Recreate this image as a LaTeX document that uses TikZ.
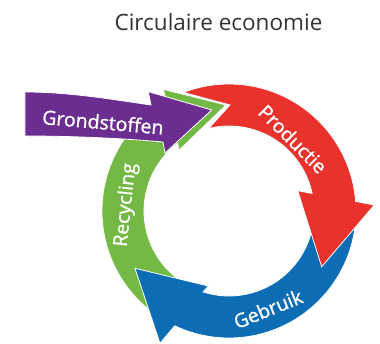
\documentclass[tikz,border=0pt]{standalone}
\usepackage{fontspec}
\setmainfont{Open Sans}
\newfontfamily\lblfont[FakeBold=1.2]{Open Sans}
\usepackage{xcolor}
\usetikzlibrary{math}
\definecolor{cpurple}{RGB}{107,45,144}
\definecolor{cred}{RGB}{232,50,43}
\definecolor{cblue}{RGB}{12,109,181}
\definecolor{cgreen}{RGB}{116,185,69}
\definecolor{cgray}{RGB}{51,51,51}

\begin{document}
\begin{tikzpicture}[x=1pt, y=1pt,
  lbl/.style={text=white, font=\lblfont\fontsize{19.5}{22}\selectfont},
  band/.style={draw=white, line width=0.8pt}]
\tikzmath{
\Ro=127;
\Ri=85;
}
\useasboundingbox (-229,-133) rectangle (151,211);

%title
\node[text=cgray, font=\fontsize{22.5}{26}\selectfont] (title) at (-10.5,188.5) {Circulaire economie};

%recycling arc
\fill[band, fill=cgreen] (240:\Ro pt) arc[start angle=240, end angle=119.6, radius=\Ro pt] -- (-65.7,121.7) -- (-3,106) -- (-49.7,61) -- (127.3:\Ri pt) arc[start angle=127.3, end angle=240, radius=\Ri pt] -- cycle;

%gebruik arc
\fill[band, fill=cblue] (0:\Ro pt) arc[start angle=0, end angle=-115.3, radius=\Ro pt] -- (-69,-132.3) -- (-94,-57.3) -- (-20.7,-75) -- (-107.7:\Ri pt) arc[start angle=-107.7, end angle=0, radius=\Ri pt] -- cycle;

%productie arc
\fill[band, fill=cred] (111:\Ro pt) arc[start angle=111, end angle=4.3, radius=\Ro pt] -- (145.3,6) -- (92.7,-55.7) -- (68.7,20.3) -- (11.9:\Ri pt) arc[start angle=11.9, end angle=103.8, radius=\Ri pt] -- (1,106) -- cycle;

%grondstoffen arrow
\fill[band, fill=cpurple] (-204,119) .. controls (-160,119) and (-120,112) .. (-78,106) -- (-80.7,119.3) -- (-17.3,101) -- (-64,58) -- (-66,69) .. controls (-110,73) and (-160,75) .. (-204,75) -- cycle;

%labels
\node[lbl, rotate=-5] (grond) at (-126,89) {Grondstoffen};
\node[lbl, rotate=-45] (prod) at (64,72) {Productie};
\node[lbl, rotate=22] (gebr) at (39,-98) {Gebruik};
\node[lbl, rotate=84] (recyc) at (-103,6) {Recycling};

\end{tikzpicture}
\end{document}
